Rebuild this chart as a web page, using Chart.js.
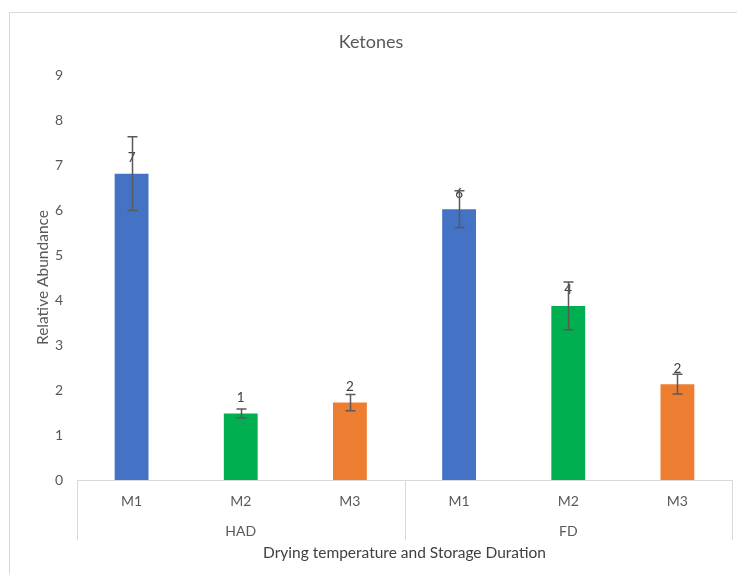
<!DOCTYPE html>
<html>
<head>
<meta charset="utf-8">
<title>Ketones</title>
<script src="https://cdn.jsdelivr.net/npm/chart.js@4/dist/chart.umd.min.js"></script>
<style>
  html, body { margin: 0; padding: 0; background: #ffffff; }
  #wrap { width: 737px; height: 574px; position: relative; }
</style>
</head>
<body>
<div id="wrap"><canvas id="myChart"></canvas></div>
<script>
const categories = ["M1", "M2", "M3", "M1", "M2", "M3"];
const groups = ["HAD", "FD"];
const abundance = [6.81, 1.48, 1.72, 6.02, 3.87, 2.13];
const errors = [0.82, 0.1, 0.18, 0.41, 0.53, 0.22];
const barColors = ["#4472C4", "#00B050", "#ED7D31", "#4472C4", "#00B050", "#ED7D31"];
const yTicks = [0, 1, 2, 3, 4, 5, 6, 7, 8, 9];

const textColor = "#595959";
const lineColor = "#d9d9d9";
const fontFamily = "Lato, 'Open Sans', sans-serif";

// frame, category axis lines, group labels, error bars and value labels
const excelExtras = {
  id: "excelExtras",
  beforeDraw(chart) {
    const ctx = chart.ctx;
    ctx.save();
    ctx.strokeStyle = lineColor;
    ctx.lineWidth = 1;
    ctx.strokeRect(9.5, 12.5, 900, 900);
    ctx.restore();
  },
  afterDatasetsDraw(chart) {
    const ctx = chart.ctx;
    const area = chart.chartArea;
    const xScale = chart.scales.x;
    const yScale = chart.scales.y;
    const meta = chart.getDatasetMeta(0);

    ctx.save();
    // category axis line and group separators
    ctx.strokeStyle = lineColor;
    ctx.lineWidth = 1;
    ctx.beginPath();
    ctx.moveTo(area.left, Math.round(area.bottom) + 0.5);
    ctx.lineTo(area.right, Math.round(area.bottom) + 0.5);
    const perGroup = categories.length / groups.length;
    for (let g = 0; g <= groups.length; g++) {
      let x;
      if (g === 0) x = area.left;
      else if (g === groups.length) x = area.right;
      else x = (xScale.getPixelForValue(g * perGroup - 1) + xScale.getPixelForValue(g * perGroup)) / 2;
      x = Math.round(x) + 0.5;
      ctx.moveTo(x, area.bottom);
      ctx.lineTo(x, area.bottom + 60);
    }
    ctx.stroke();

    // group labels
    ctx.fillStyle = textColor;
    ctx.font = "14px " + fontFamily;
    ctx.textAlign = "center";
    ctx.textBaseline = "middle";
    groups.forEach((name, g) => {
      const x0 = xScale.getPixelForValue(g * perGroup);
      const x1 = xScale.getPixelForValue(g * perGroup + perGroup - 1);
      ctx.fillText(name, (x0 + x1) / 2, area.bottom + 51);
    });

    // value labels
    ctx.fillStyle = "#404040";
    ctx.font = "13.5px " + fontFamily;
    meta.data.forEach((bar, i) => {
      ctx.fillText(String(Math.round(abundance[i])), bar.x, bar.y - 16);
    });

    // error bars
    ctx.strokeStyle = "#595959";
    ctx.lineWidth = 1.5;
    meta.data.forEach((bar, i) => {
      const yTop = yScale.getPixelForValue(abundance[i] + errors[i]);
      const yBot = yScale.getPixelForValue(abundance[i] - errors[i]);
      const x = Math.round(bar.x) + 0.5;
      ctx.beginPath();
      ctx.moveTo(x, yTop);
      ctx.lineTo(x, yBot);
      ctx.moveTo(x - 5, yTop);
      ctx.lineTo(x + 5, yTop);
      ctx.moveTo(x - 5, yBot);
      ctx.lineTo(x + 5, yBot);
      ctx.stroke();
    });
    ctx.restore();
  },
};

const ctx = document.getElementById("myChart");
new Chart(ctx, {
  type: "bar",
  data: {
    labels: categories,
    datasets: [
      {
        label: "Ketones",
        data: abundance,
        backgroundColor: barColors,
        borderWidth: 0,
        barPercentage: 0.31,
        categoryPercentage: 1,
      },
    ],
  },
  options: {
    responsive: true,
    maintainAspectRatio: false,
    animation: false,
    layout: {
      padding: { left: 10, right: 5, top: 12, bottom: 10 },
    },
    plugins: {
      legend: { display: false },
      tooltip: { enabled: false },
      title: {
        display: true,
        text: "Ketones",
        color: textColor,
        font: { family: fontFamily, size: 18, weight: "normal" },
        padding: { top: 19.5, bottom: 22 },
      },
    },
    scales: {
      x: {
        grid: { display: false },
        border: { display: false },
        ticks: {
          color: textColor,
          font: { family: fontFamily, size: 14 },
          padding: 5,
        },
        title: {
          display: true,
          text: "Drying temperature and Storage Duration",
          color: "#404040",
          font: { family: fontFamily, size: 15.5 },
          padding: { top: 0, bottom: 2 },
        },
        afterFit: function (scale) {
          scale.height = 84;
        },
      },
      y: {
        min: 0,
        max: 9,
        afterBuildTicks: function (scale) {
          scale.ticks = yTicks.map((v) => ({ value: v }));
        },
        grid: { display: false },
        border: { display: false },
        ticks: {
          color: textColor,
          font: { family: fontFamily, size: 14 },
          padding: 6,
        },
        title: {
          display: true,
          text: "Relative Abundance",
          color: textColor,
          font: { family: fontFamily, size: 15.5 },
          padding: { top: 24, bottom: 0 },
        },
        afterFit: function (scale) {
          scale.width = 67;
        },
      },
    },
  },
  plugins: [excelExtras],
});
</script>
</body>
</html>
